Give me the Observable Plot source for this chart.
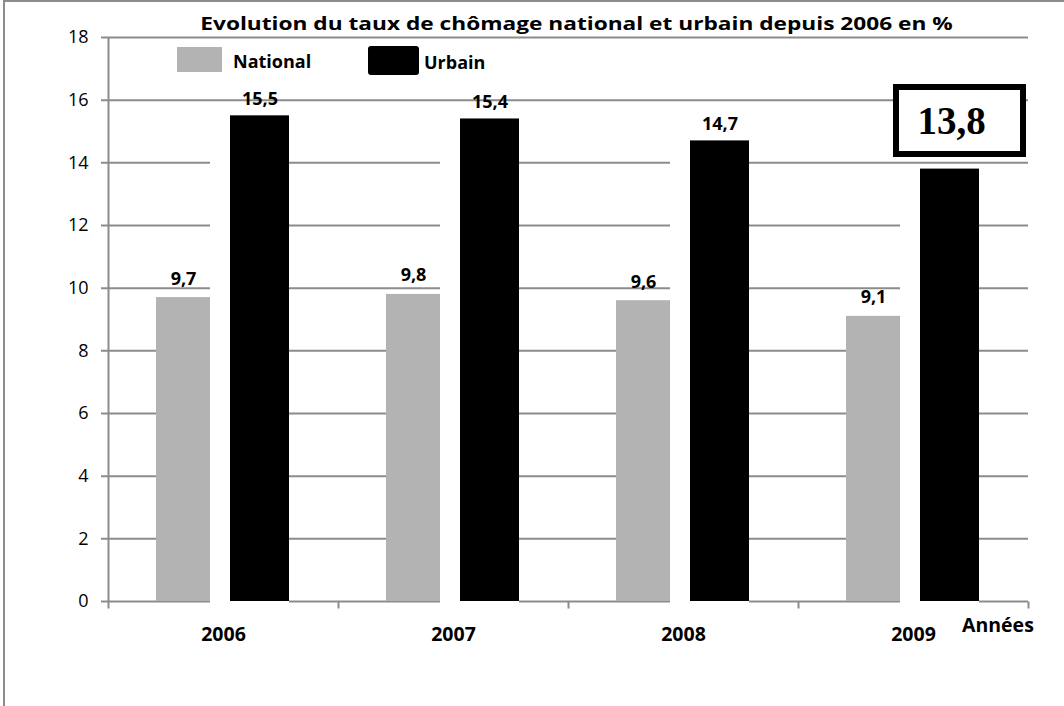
<!DOCTYPE html>
<html>
<head>
<meta charset="utf-8">
<script src="https://cdn.jsdelivr.net/npm/d3@7"></script>
<script src="https://cdn.jsdelivr.net/npm/@observablehq/plot@0.6"></script>
<style>
  html, body { margin: 0; padding: 0; background: #fff; }
  #wrap { position: relative; width: 1064px; height: 706px; overflow: hidden; background: #fff; font-family: "Open Sans", sans-serif; color: #000; }
  #chart { position: absolute; left: 0; top: 0; }
  .abs { position: absolute; white-space: nowrap; line-height: 1; }
  #frame { position: absolute; left: 3px; top: 0px; width: 3000px; height: 3000px; border: 2px solid #8c8c8c; pointer-events: none; }
</style>
</head>
<body>
<div id="wrap">
  <div id="chart"></div>
  <div class="abs" id="title" style="left:0;width:1153px;text-align:center;top:14px;font-size:18px;font-weight:bold;transform:scaleX(1.26);transform-origin:576.5px 0;">Evolution du taux de chômage national et urbain depuis 2006 en %</div>
  <div class="abs" style="left:177px;top:47px;width:45px;height:25px;background:#b3b3b3;"></div>
  <div class="abs" style="left:233px;top:52px;font-size:18px;font-weight:bold;">National</div>
  <div class="abs" style="left:368px;top:46px;width:51px;height:29px;background:#000;border-radius:3px;"></div>
  <div class="abs" style="left:424px;top:53px;font-size:18px;font-weight:bold;">Urbain</div>
  <div class="abs" style="left:962px;top:615px;font-size:19.5px;font-weight:bold;">Années</div>
  <div class="abs" id="box" style="box-sizing:border-box;width:133px;height:73px;border:6px solid #000;background:#fff;display:flex;align-items:center;justify-content:center;padding-right:16px;font-family:'Liberation Serif','Times New Roman',serif;font-weight:bold;font-size:39px;"></div>
  <div id="frame"></div>
</div>
<script>
// ---- data ----
const years = ["2006", "2007", "2008", "2009"];
const national = [9.7, 9.8, 9.6, 9.1];
const urbain = [15.5, 15.4, 14.7, 13.8];
const yTicks = [0, 2, 4, 6, 8, 10, 12, 14, 16, 18];
const seriesNames = ["National", "Urbain"];
const highlightYear = "2009";
const highlightValue = 13.8;

// ---- layout ----
const W = 1064, H = 706;
const mL = 108, mR = 36, mT = 37, mB = 105;
const bw = (W - mL - mR) / years.length;
const f = bw / 230;
const gridColor = "#8c8c8c";
const fmt = v => v.toFixed(1).replace(".", ",");

const natData = years.map((y, i) => ({year: y, value: national[i], series: seriesNames[0]}));
const urbData = years.map((y, i) => ({year: y, value: urbain[i], series: seriesNames[1]}));

const natInsetL = 48 * f, natInsetR = 128 * f;
const urbInsetL = 122 * f, urbInsetR = 49 * f;
const gapInsetL = 102 * f;

const tickDown = { draw(ctx) { ctx.moveTo(0, 0); ctx.lineTo(0, 7); } };

const plot = Plot.plot({
  width: W, height: H,
  marginLeft: mL, marginRight: mR, marginTop: mT, marginBottom: mB,
  x: {type: "band", domain: years, padding: 0, axis: null},
  y: {domain: [0, 18], axis: null},
  style: {fontFamily: "Open Sans", fontSize: "18px", color: "#000", background: "transparent", overflow: "visible"},
  marks: [
    Plot.ruleY(yTicks, {y: d => d, stroke: gridColor, strokeWidth: 2, insetLeft: -7}),
    Plot.ruleX([years[0]], {x: d => d, y1: 0, y2: 18, dx: -bw / 2, stroke: gridColor, strokeWidth: 2}),
    Plot.dot(years, {x: d => d, frameAnchor: "bottom", symbol: tickDown, stroke: gridColor, strokeWidth: 2, fill: "none", dx: -bw / 2}),
    Plot.dot([years[years.length - 1]], {x: d => d, frameAnchor: "bottom", symbol: tickDown, stroke: gridColor, strokeWidth: 2, fill: "none", dx: bw / 2}),
    Plot.barY(natData, {x: "year", y: "value", fill: "#b3b3b3", insetLeft: natInsetL, insetRight: natInsetR}),
    Plot.barY(urbData, {x: "year", y: "value", fill: "#fff", insetLeft: gapInsetL, insetRight: urbInsetR, insetBottom: -3}),
    Plot.barY(urbData, {x: "year", y: "value", fill: "#000", insetLeft: urbInsetL, insetRight: urbInsetR}),
    Plot.text(natData, {x: "year", y: "value", text: d => fmt(d.value), dx: (natInsetL + (bw - natInsetR)) / 2 - bw / 2, dy: -13, lineAnchor: "bottom", fontWeight: "bold", fontSize: 18, fill: "#000"}),
    Plot.text(urbData.filter(d => d.year !== highlightYear), {x: "year", y: "value", text: d => fmt(d.value), dx: (urbInsetL + (bw - urbInsetR)) / 2 - bw / 2, dy: -11, lineAnchor: "bottom", fontWeight: "bold", fontSize: 18, fill: "#000"}),
    Plot.text(yTicks, {y: d => d, text: d => String(d), frameAnchor: "left", textAnchor: "end", dx: -20, fill: "#000", fontSize: 18}),
    Plot.text(years, {x: d => d, text: d => d, frameAnchor: "bottom", lineAnchor: "top", dy: 26, fontWeight: "bold", fontSize: 19.5, fill: "#000"})
  ]
});
document.getElementById("chart").appendChild(plot);

// highlight box for the last Urbain value, positioned from the plot's scales
const xs = plot.scale("x"), ys = plot.scale("y");
const bx0 = xs.apply(highlightYear);
const barCenter = bx0 + (urbInsetL + (bw - urbInsetR)) / 2;
const box = document.getElementById("box");
box.textContent = fmt(highlightValue);
box.style.left = (barCenter - 133 / 2 + 10) + "px";
box.style.top = (ys.apply(highlightValue) - 12 - 73) + "px";
</script>
</body>
</html>
